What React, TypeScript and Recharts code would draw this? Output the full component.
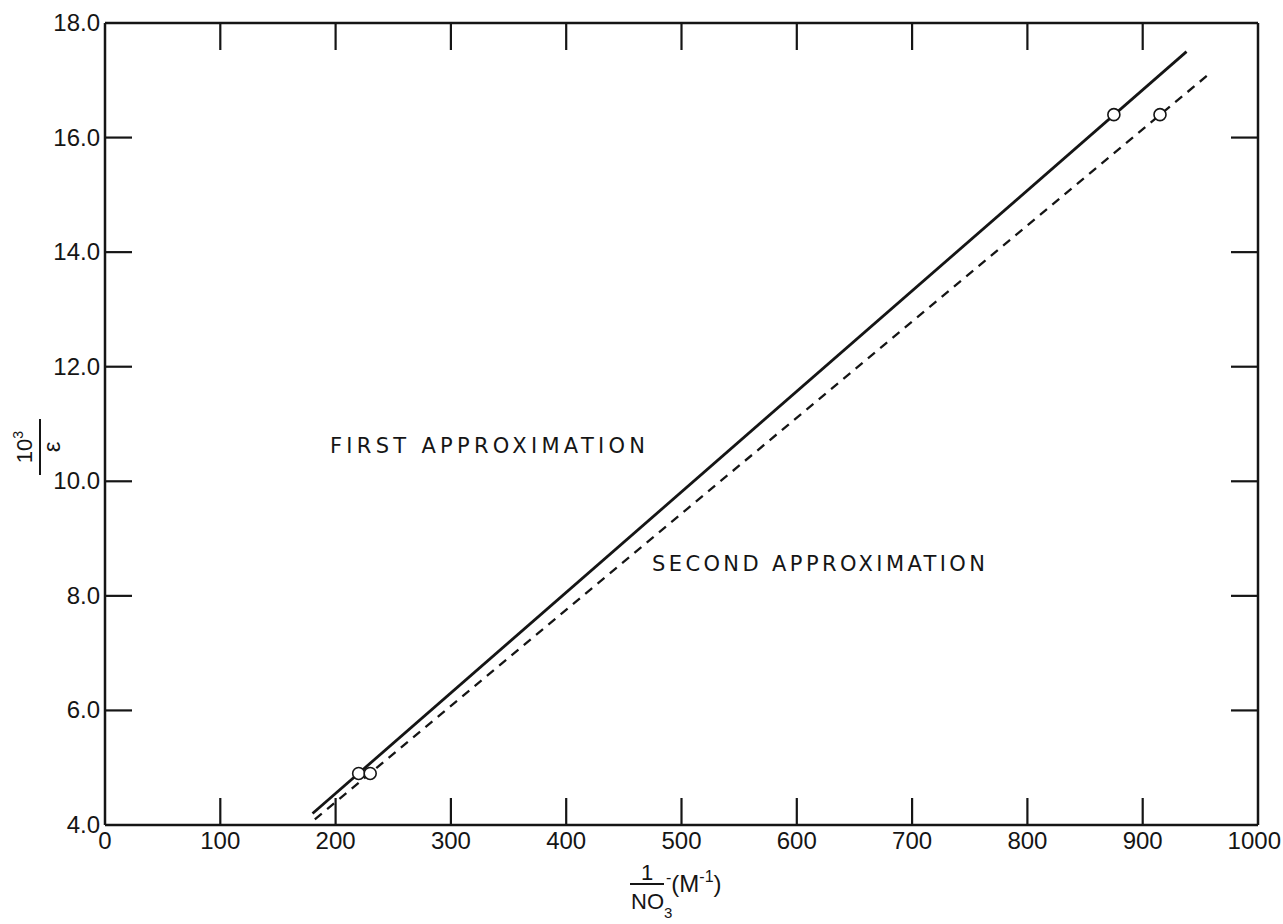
import React from 'react';
import { ComposedChart, Line, Scatter, XAxis, YAxis } from 'recharts';

const xTicks = [0, 100, 200, 300, 400, 500, 600, 700, 800, 900, 1000];
const yTicks = [4, 6, 8, 10, 12, 14, 16, 18];
const xTickLabels = ['0', '100', '200', '300', '400', '500', '600', '700', '800', '900', '1000'];
const yTickLabels = ['4.0', '6.0', '8.0', '10.0', '12.0', '14.0', '16.0', '18.0'];

// FIRST APPROXIMATION (solid)
const firstLine = [
  { x: 180, y: 4.2 },
  { x: 938, y: 17.5 },
];
const firstPoints = [
  { x: 220, y: 4.9 },
  { x: 875, y: 16.4 },
];
// SECOND APPROXIMATION (dashed)
const secondLine = [
  { x: 182, y: 4.1 },
  { x: 960, y: 17.15 },
];
const secondPoints = [
  { x: 230, y: 4.9 },
  { x: 915, y: 16.4 },
];

const INK = '#151515';
const FONT = '"Liberation Sans", Arial, sans-serif';
const LABEL_FONT = '"DejaVu Sans", "Liberation Sans", sans-serif';
const TICK_LEN = 27;
const W = 1283;
const H = 924;

const isEnd = (v: number, arr: number[]) => v === arr[0] || v === arr[arr.length - 1];

const BottomTick = (props: any) => {
  const { x, y, payload } = props;
  const v = payload.value;
  const i = xTicks.indexOf(v);
  const last = i === xTicks.length - 1;
  return (
    <g>
      {!isEnd(v, xTicks) && (
        <line x1={x} y1={y} x2={x} y2={y - TICK_LEN} stroke={INK} strokeWidth={2.2} />
      )}
      <text
        x={last ? x + 23 : x}
        y={y + 24}
        textAnchor={last ? 'end' : 'middle'}
        fontFamily={FONT}
        fontSize={24}
        fill={INK}
      >
        {xTickLabels[i]}
      </text>
    </g>
  );
};

const LeftTick = (props: any) => {
  const { x, y, payload } = props;
  const v = payload.value;
  const i = yTicks.indexOf(v);
  return (
    <g>
      {!isEnd(v, yTicks) && (
        <line x1={x} y1={y} x2={x + TICK_LEN} y2={y} stroke={INK} strokeWidth={2.2} />
      )}
      <text x={x - 5} y={y + 8} textAnchor="end" fontFamily={FONT} fontSize={24} fill={INK}>
        {yTickLabels[i]}
      </text>
    </g>
  );
};

const TopTick = (props: any) => {
  const { x, y, payload } = props;
  if (isEnd(payload.value, xTicks)) return <g />;
  return <line x1={x} y1={y} x2={x} y2={y + TICK_LEN} stroke={INK} strokeWidth={2.2} />;
};

const RightTick = (props: any) => {
  const { x, y, payload } = props;
  if (isEnd(payload.value, yTicks)) return <g />;
  return <line x1={x} y1={y} x2={x - TICK_LEN} y2={y} stroke={INK} strokeWidth={2.2} />;
};

const OpenCircle = (props: any) => (
  <circle cx={props.cx} cy={props.cy} r={6} fill="#fff" stroke={INK} strokeWidth={1.6} />
);

const axisLine = { stroke: INK, strokeWidth: 2.5 };

export default function App() {
  return (
    <div style={{ position: 'absolute', left: 0, top: 0, width: W, height: H, background: '#fff' }}>
      <ComposedChart
        width={W}
        height={H}
        margin={{ top: 22, right: 24, bottom: 59, left: 25 }}
      >
        <XAxis
          dataKey="x"
          type="number"
          domain={[0, 1000]}
          ticks={xTicks}
          interval={0}
          height={40}
          tickSize={0}
          tickMargin={0}
          tickLine={false}
          axisLine={axisLine}
          tick={<BottomTick />}
          allowDataOverflow
        />
        <XAxis
          xAxisId="top"
          orientation="top"
          dataKey="x"
          type="number"
          domain={[0, 1000]}
          ticks={xTicks}
          interval={0}
          height={1}
          tickSize={0}
          tickMargin={0}
          tickLine={false}
          axisLine={axisLine}
          tick={<TopTick />}
          allowDataOverflow
        />
        <YAxis
          dataKey="y"
          type="number"
          domain={[4, 18]}
          ticks={yTicks}
          interval={0}
          width={80}
          tickSize={0}
          tickMargin={0}
          tickLine={false}
          axisLine={axisLine}
          tick={<LeftTick />}
          allowDataOverflow
        />
        <YAxis
          yAxisId="right"
          orientation="right"
          dataKey="y"
          type="number"
          domain={[4, 18]}
          ticks={yTicks}
          interval={0}
          width={1}
          tickSize={0}
          tickMargin={0}
          tickLine={false}
          axisLine={axisLine}
          tick={<RightTick />}
          allowDataOverflow
        />
        <Line
          data={firstLine}
          dataKey="y"
          type="linear"
          stroke={INK}
          strokeWidth={2.8}
          dot={false}
          activeDot={false}
          isAnimationActive={false}
        />
        <Line
          data={secondLine}
          dataKey="y"
          type="linear"
          stroke={INK}
          strokeWidth={2.3}
          strokeDasharray="9 7"
          dot={false}
          activeDot={false}
          isAnimationActive={false}
        />
        <Scatter data={firstPoints} dataKey="y" shape={<OpenCircle />} isAnimationActive={false} />
        <Scatter data={secondPoints} dataKey="y" shape={<OpenCircle />} isAnimationActive={false} />
      </ComposedChart>
      <svg
        width={W}
        height={H}
        style={{ position: 'absolute', left: 0, top: 0, pointerEvents: 'none' }}
      >
        <g fontFamily={FONT} fill={INK}>
          <text x={330} y={453} fontFamily={LABEL_FONT} fontSize={21} textLength={315} lengthAdjust="spacing">
            FIRST APPROXIMATION
          </text>
          <text x={652} y={571} fontFamily={LABEL_FONT} fontSize={21} textLength={333} lengthAdjust="spacing">
            SECOND APPROXIMATION
          </text>
          {/* y-axis title: 10^3 / epsilon */}
          <g transform="translate(40,447) rotate(-90)">
            <text x={0} y={-8} textAnchor="middle" fontSize={22}>
              10<tspan fontSize={14} dy={-9}>3</tspan>
            </text>
            <line x1={-28} y1={0} x2={28} y2={0} stroke={INK} strokeWidth={2} />
            <text x={0} y={20} textAnchor="middle" fontSize={24}>ε</text>
          </g>
          {/* x-axis title: 1 / NO3- (M^-1) */}
          <text x={647} y={880} textAnchor="middle" fontSize={22}>1</text>
          <line x1={630} y1={884} x2={664} y2={884} stroke={INK} strokeWidth={2} />
          <text x={631} y={909} fontSize={22}>
            NO<tspan fontSize={15} dy={9}>3</tspan>
          </text>
          <text x={666} y={892} fontSize={24}>
            <tspan fontSize={16} dy={-9}>-</tspan>
            <tspan dy={9}>(M</tspan>
            <tspan fontSize={16} dy={-10}>-1</tspan>
            <tspan dy={10}>)</tspan>
          </text>
        </g>
      </svg>
    </div>
  );
}
